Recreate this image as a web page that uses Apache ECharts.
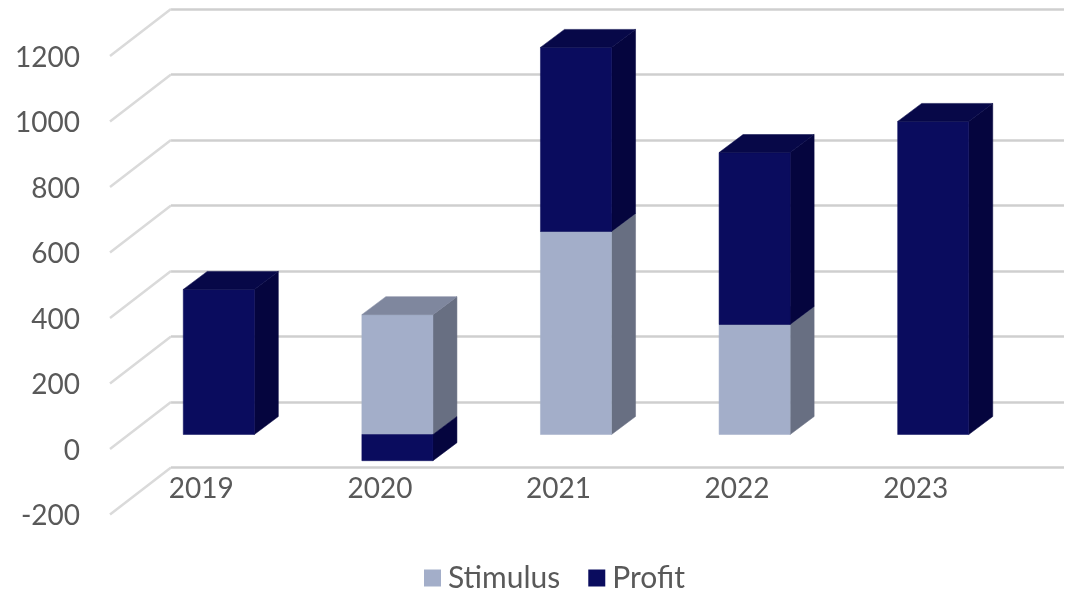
<!DOCTYPE html>
<html>
<head>
<meta charset="utf-8">
<style>
html, body { margin: 0; padding: 0; background: #fff; }
#chart { width: 1081px; height: 595px; }
</style>
<script src="https://cdn.jsdelivr.net/npm/echarts@6/dist/echarts.min.js"></script>
</head>
<body>
<div id="chart"></div>
<script>
var years = ['2019', '2020', '2021', '2022', '2023'];
var stimulus = [0, 366, 620, 336, 0];
var profit = [443, -80, 562, 525, 956];
var yTicks = [-200, 0, 200, 400, 600, 800, 1000, 1200];

var FONT = 'Lato';
var TEXT_COLOR = '#595959';

// 假3D：柱子正面相对后墙的偏移，以及柱子自身的进深
var FRONT_DX = -41.5, FRONT_DY = 32.5;
var BAR_DX = 24, BAR_DY = -18;
// 地面斜线的偏移
var FLOOR_DX = -61, FLOOR_DY = 47;

var stimulusColors = { front: '#a3aec9', side: '#686f82', top: '#7f879e' };
var profitColors = { front: '#0a0c5e', side: '#05053e', top: '#070848' };

function makeBox(api, idx, from, to, colors) {
    var size = api.size([1, 0])[0] * 0.398;
    var p0 = api.coord([idx, from]);
    var p1 = api.coord([idx, to]);
    var x0 = p0[0] + FRONT_DX - size / 2;
    var x1 = x0 + size;
    var y0 = p0[1] + FRONT_DY;
    var y1 = p1[1] + FRONT_DY;
    var children = [
        {
            type: 'polygon',
            shape: { points: [[x1, y0], [x1 + BAR_DX, y0 + BAR_DY], [x1 + BAR_DX, y1 + BAR_DY], [x1, y1]] },
            style: { fill: colors.side, stroke: colors.side, lineWidth: 0.5 }
        },
        {
            type: 'rect',
            shape: { x: x0, y: Math.min(y0, y1), width: size, height: Math.abs(y1 - y0) },
            style: { fill: colors.front, stroke: colors.front, lineWidth: 0.5 }
        }
    ];
    if (to > from) {
        children.push({
            type: 'polygon',
            shape: { points: [[x0, y1], [x1, y1], [x1 + BAR_DX, y1 + BAR_DY], [x0 + BAR_DX, y1 + BAR_DY]] },
            style: { fill: colors.top, stroke: colors.top, lineWidth: 0.5 }
        });
    }
    return { type: 'group', children: children };
}

function renderStimulus(params, api) {
    var idx = api.value(0);
    if (!stimulus[idx]) return null;
    return makeBox(api, idx, 0, stimulus[idx], stimulusColors);
}

function renderProfit(params, api) {
    var idx = api.value(0);
    var v = profit[idx];
    if (!v) return null;
    if (v < 0) return makeBox(api, idx, 0, v, profitColors);
    return makeBox(api, idx, stimulus[idx], stimulus[idx] + v, profitColors);
}

function renderFloorLine(params, api) {
    var p = api.coord([0, api.value(0)]);
    var x = params.coordSys.x;
    return {
        type: 'line',
        shape: { x1: x, y1: p[1], x2: x + FLOOR_DX, y2: p[1] + FLOOR_DY },
        style: { stroke: '#dadada', lineWidth: 2.5 }
    };
}

var myChart = echarts.init(document.querySelector('#chart'));

var option = {
    animation: false,
    // grid 0 是后墙；grid 1 只用来放前沿的y轴文字
    grid: [
        { left: 171, top: 9, width: 893, height: 458.5, containLabel: false, outerBoundsMode: 'none' },
        { left: 110, top: 57.5, width: 954, height: 458.5, containLabel: false, outerBoundsMode: 'none' }
    ],
    legend: {
        data: ['Stimulus', 'Profit'],
        left: 424,
        top: 563,
        padding: 0,
        icon: 'rect',
        itemWidth: 17,
        itemHeight: 17,
        itemGap: 28,
        textStyle: { fontFamily: FONT, fontSize: 30, color: TEXT_COLOR, padding: [0, 0, 0, 2] }
    },
    xAxis: [
        {
            type: 'category',
            gridIndex: 0,
            data: years,
            axisLine: { show: false },
            axisTick: { show: false },
            axisLabel: {
                fontFamily: FONT,
                fontSize: 28,
                color: TEXT_COLOR,
                margin: 7,
                padding: [0, 118, 0, 0]
            }
        },
        { type: 'category', gridIndex: 1, data: years, show: false }
    ],
    yAxis: [
        {
            type: 'value',
            gridIndex: 0,
            min: -200,
            max: 1200,
            interval: 200,
            axisLine: { show: false },
            axisTick: { show: false },
            axisLabel: { show: false },
            splitLine: { lineStyle: { color: '#cfcfcf', width: 2.5 } }
        },
        {
            type: 'value',
            gridIndex: 1,
            min: -200,
            max: 1200,
            interval: 200,
            axisLine: { show: false },
            axisTick: { show: false },
            splitLine: { show: false },
            axisLabel: {
                fontFamily: FONT,
                fontSize: 28,
                color: TEXT_COLOR,
                margin: 30,
                formatter: function(v) { return String(v); }
            }
        }
    ],
    series: [
        {
            name: 'floor',
            type: 'custom',
            renderItem: renderFloorLine,
            data: yTicks.map(function(t) { return [t]; }),
            encode: { y: 0 },
            silent: true,
            z: 1
        },
        {
            name: 'Stimulus',
            type: 'custom',
            renderItem: renderStimulus,
            itemStyle: { color: stimulusColors.front },
            data: years.map(function(y, i) { return [i, stimulus[i]]; }),
            encode: { x: 0, y: 1 },
            z: 2
        },
        {
            name: 'Profit',
            type: 'custom',
            renderItem: renderProfit,
            itemStyle: { color: profitColors.front },
            data: years.map(function(y, i) { return [i, profit[i]]; }),
            encode: { x: 0, y: 1 },
            z: 3
        }
    ]
};

myChart.setOption(option);
</script>
</body>
</html>
